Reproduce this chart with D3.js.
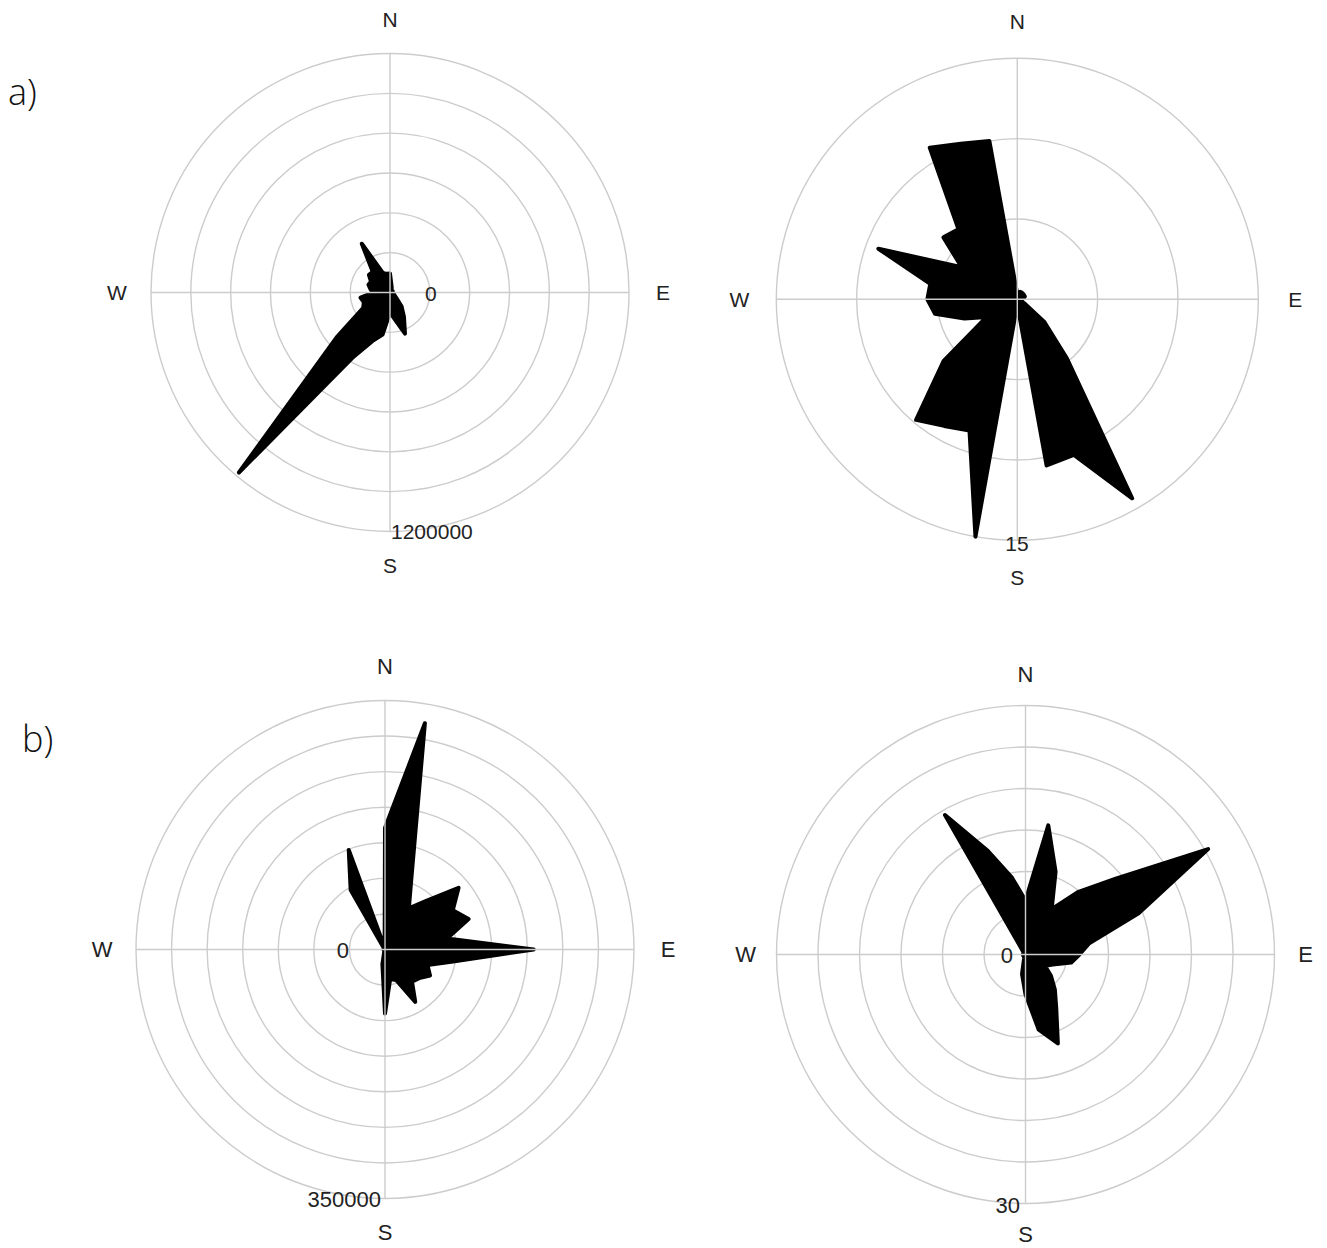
<!DOCTYPE html>
<html><head><meta charset="utf-8">
<script src="https://cdn.jsdelivr.net/npm/d3@7"></script>
<style>
html,body{margin:0;padding:0;background:#fff;}
svg{display:block;}
</style></head>
<body>
<svg id="chart" width="1327" height="1248"></svg>
<script>
// Direction bins (degrees clockwise from north)
const directions = d3.range(0, 360, 10);

// Panel a) left: values per 10° bin (scale max 1200000)
const aLeftValues = [95000, 40000, 25000, 15000, 15000, 15000, 15000, 15000, 15000, 15000,
  15000, 20000, 25000, 40000, 90000, 140000, 220000, 135000, 100000, 215000,
  260000, 380000, 1180000, 350000, 155000, 140000, 150000, 85000, 100000, 115000,
  110000, 138000, 135000, 283000, 105000, 95000];
// Panel a) right (scale max 15)
const aRightValues = [0.3, 0.4, 0.5, 0.5, 0.5, 0.5, 0.5, 0.5, 0.4, 0.3,
  0.2, 0.2, 0.5, 2.2, 4.8, 14.3, 10.3, 10.5, 0.3, 15.0,
  8.7, 9.1, 9.8, 6.0, 2.2, 3.5, 5.2, 5.6, 5.5, 9.2,
  4.0, 6.0, 5.7, 10.9, 10.3, 10.0];
// Panel b) left (scale max 350000)
const bLeftValues = [171000, 323000, 109000, 67000, 89000, 135000, 110000, 125000, 88500, 209000,
  97000, 63500, 73000, 62700, 59000, 85000, 45600, 42000, 90000, 21000,
  3000, 2000, 2000, 2000, 2000, 2000, 2000, 2000, 2000, 2000,
  2000, 2000, 2000, 96500, 149000, 3000];
// Panel b) right (scale max 30)
const bRightValues = [6.5, 15.8, 10.6, 6.3, 9.8, 14.2, 25.4, 14.5, 7.8, 6.5,
  5.6, 3.5, 2.7, 4.0, 5.5, 7.4, 11.4, 9.2, 4.8, 2.4,
  0.5, 0.3, 0.3, 0.3, 0.3, 0.3, 0.3, 0.3, 0.3, 0.3,
  0.3, 0.3, 0.4, 19.4, 13.3, 9.4];

const compassLabels = ["N", "E", "S", "W"];
const maxTicks = [1200000, 15, 350000, 30];
const ringCounts = [6, 3, 7, 6];
const panelTags = ["a)", "b)"];

const svg = d3.select("#chart");

const panels = [
  {values: aLeftValues, max: maxTicks[0], rings: ringCounts[0], cx: 390, cy: 292.5, R: 239, lab: 273, fs: 21,
   zero: {x: 425, y: 293, anchor: "start"}, maxLab: {x: 391, y: 531, anchor: "start"}},
  {values: aRightValues, max: maxTicks[1], rings: ringCounts[1], cx: 1017.3, cy: 299.3, R: 241, lab: 278, fs: 21,
   zero: null, maxLab: {x: 1017, y: 543, anchor: "middle"}},
  {values: bLeftValues, max: maxTicks[2], rings: ringCounts[2], cx: 385, cy: 949.5, R: 249, lab: 283, fs: 22,
   zero: {x: 349, y: 950, anchor: "end"}, maxLab: {x: 381, y: 1199, anchor: "end"}},
  {values: bRightValues, max: maxTicks[3], rings: ringCounts[3], cx: 1025.5, cy: 954.5, R: 249, lab: 280, fs: 22,
   zero: {x: 1013, y: 955, anchor: "end"}, maxLab: {x: 1020, y: 1205, anchor: "end"}}
];

const gridColor = "#cccccc";

panels.forEach(p => {
  const g = svg.append("g").attr("transform", `translate(${p.cx},${p.cy})`);
  const r = d3.scaleLinear().domain([0, p.max]).range([0, p.R]);
  const ringVals = d3.range(1, p.rings + 1).map(i => p.max * i / p.rings);

  g.selectAll("circle.ring").data(ringVals).join("circle")
    .attr("class", "ring").attr("r", d => r(d))
    .attr("fill", "none").attr("stroke", gridColor).attr("stroke-width", 1.4);

  const line = d3.lineRadial()
    .angle((d, i) => directions[i] * Math.PI / 180)
    .radius(d => r(d))
    .curve(d3.curveLinearClosed);

  g.append("path").datum(p.values)
    .attr("d", line)
    .attr("fill", "#000").attr("stroke", "#000")
    .attr("stroke-width", 4).attr("stroke-linejoin", "round");

  // cross lines on top
  g.append("line").attr("x1", -p.R).attr("x2", p.R).attr("y1", 0).attr("y2", 0)
    .attr("stroke", gridColor).attr("stroke-width", 1.4);
  g.append("line").attr("y1", -p.R).attr("y2", p.R).attr("x1", 0).attr("x2", 0)
    .attr("stroke", gridColor).attr("stroke-width", 1.4);

  // compass labels
  const pos = [[0, -p.lab], [p.lab, 0], [0, p.lab], [-p.lab, 0]];
  g.selectAll("text.compass").data(compassLabels).join("text")
    .attr("class", "compass")
    .attr("x", (d, i) => pos[i][0]).attr("y", (d, i) => pos[i][1])
    .attr("text-anchor", "middle").attr("dominant-baseline", "central")
    .attr("font-family", "Liberation Sans, Arial, sans-serif")
    .attr("font-size", p.fs).attr("fill", "#222").text(d => d);

  if (p.zero) {
    svg.append("text").attr("x", p.zero.x).attr("y", p.zero.y)
      .attr("text-anchor", p.zero.anchor).attr("dominant-baseline", "central")
      .attr("font-family", "Liberation Sans, Arial, sans-serif")
      .attr("font-size", p.fs).attr("fill", "#222").text("0");
  }
  svg.append("text").attr("x", p.maxLab.x).attr("y", p.maxLab.y)
    .attr("text-anchor", p.maxLab.anchor).attr("dominant-baseline", "central")
    .attr("font-family", "Liberation Sans, Arial, sans-serif")
    .attr("font-size", p.fs).attr("fill", "#222").text(p.max);
});

svg.append("text").attr("x", 8).attr("y", 105).text(panelTags[0])
  .attr("font-family", "Open Sans, Noto Sans, sans-serif").attr("font-weight", 300)
  .attr("font-size", 36).attr("fill", "#111");
svg.append("text").attr("x", 22).attr("y", 752).text(panelTags[1])
  .attr("font-family", "Open Sans, Noto Sans, sans-serif").attr("font-weight", 300)
  .attr("font-size", 36).attr("fill", "#111");
</script>
</body></html>
